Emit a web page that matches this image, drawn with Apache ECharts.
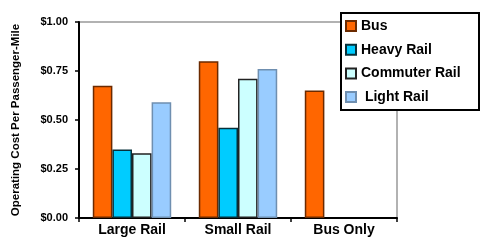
<!DOCTYPE html>
<html><head><meta charset="utf-8">
<script src="https://cdn.jsdelivr.net/npm/echarts@6/dist/echarts.min.js"></script>
<style>html,body{margin:0;padding:0;background:#fff}#c{width:486px;height:242px}</style>
</head><body><div id="c"></div>
<script>
var categories = ['Large Rail', 'Small Rail', 'Bus Only'];
var busValues = [0.675, 0.80, 0.65];
var heavyRailValues = [0.35, 0.46, null];
var commuterRailValues = [0.33, 0.71, null];
var lightRailValues = [0.59, 0.76, null];
var yTicks = [0, 0.25, 0.5, 0.75, 1.0];
var seriesNames = ['Bus', 'Heavy Rail', 'Commuter Rail', ' Light Rail'];

var chart = echarts.init(document.getElementById('c'), null, {renderer: 'canvas'});
var font = 'Arial, "Liberation Sans", sans-serif';
function bar(name, data, color, border) {
  return {
    name: name, type: 'bar', data: data, barGap: 0, barCategoryGap: '26%',
    itemStyle: {color: color, borderColor: border, borderWidth: 1.5},
    emphasis: {disabled: true}
  };
}
chart.setOption({
  animation: false,
  grid: {left: 79, top: 22, right: 89, bottom: 24, show: true, borderColor: '#999', borderWidth: 1.5, backgroundColor: 'transparent'},
  graphic: [{type: 'rect', z: 5, shape: {x: 341, y: 13, width: 138, height: 97}, style: {fill: '#fff', stroke: '#000', lineWidth: 2}}],
  legend: {
    orient: 'vertical', left: 345, top: 19, padding: 0, itemGap: 9.7, z: 10,
    itemWidth: 10, itemHeight: 10, icon: 'rect',
    textStyle: {fontFamily: font, fontWeight: 'bold', fontSize: 14, color: '#000'},
    data: seriesNames
  },
  xAxis: {
    type: 'category', data: categories,
    axisLine: {lineStyle: {color: '#000', width: 2}},
    axisTick: {show: true, length: 4, lineStyle: {color: '#000', width: 1.5}},
    axisLabel: {fontFamily: font, fontWeight: 'bold', fontSize: 14, color: '#000', margin: 5}
  },
  yAxis: {
    type: 'value', min: 0, max: 1, interval: 0.25,
    name: 'Operating Cost Per Passenger-Mile', nameLocation: 'middle', nameGap: 57, nameRotate: 90,
    nameTextStyle: {fontFamily: font, fontWeight: 'bold', fontSize: 11.5, color: '#000'},
    axisLine: {show: true, lineStyle: {color: '#000', width: 2}},
    axisTick: {show: true, length: 4, lineStyle: {color: '#000', width: 1.5}},
    splitLine: {show: false},
    axisLabel: {fontFamily: font, fontWeight: 'bold', fontSize: 11, color: '#000', margin: 11,
      formatter: function (v) { return '$' + v.toFixed(2); }}
  },
  series: [
    bar(seriesNames[0], busValues, '#FF6600', '#6b2a00'),
    bar(seriesNames[1], heavyRailValues, '#00CCFF', '#06303a'),
    bar(seriesNames[2], commuterRailValues, '#CCFFFF', '#222'),
    bar(seriesNames[3], lightRailValues, '#99CCFF', '#6f8fb0')
  ]
});
</script></body></html>
